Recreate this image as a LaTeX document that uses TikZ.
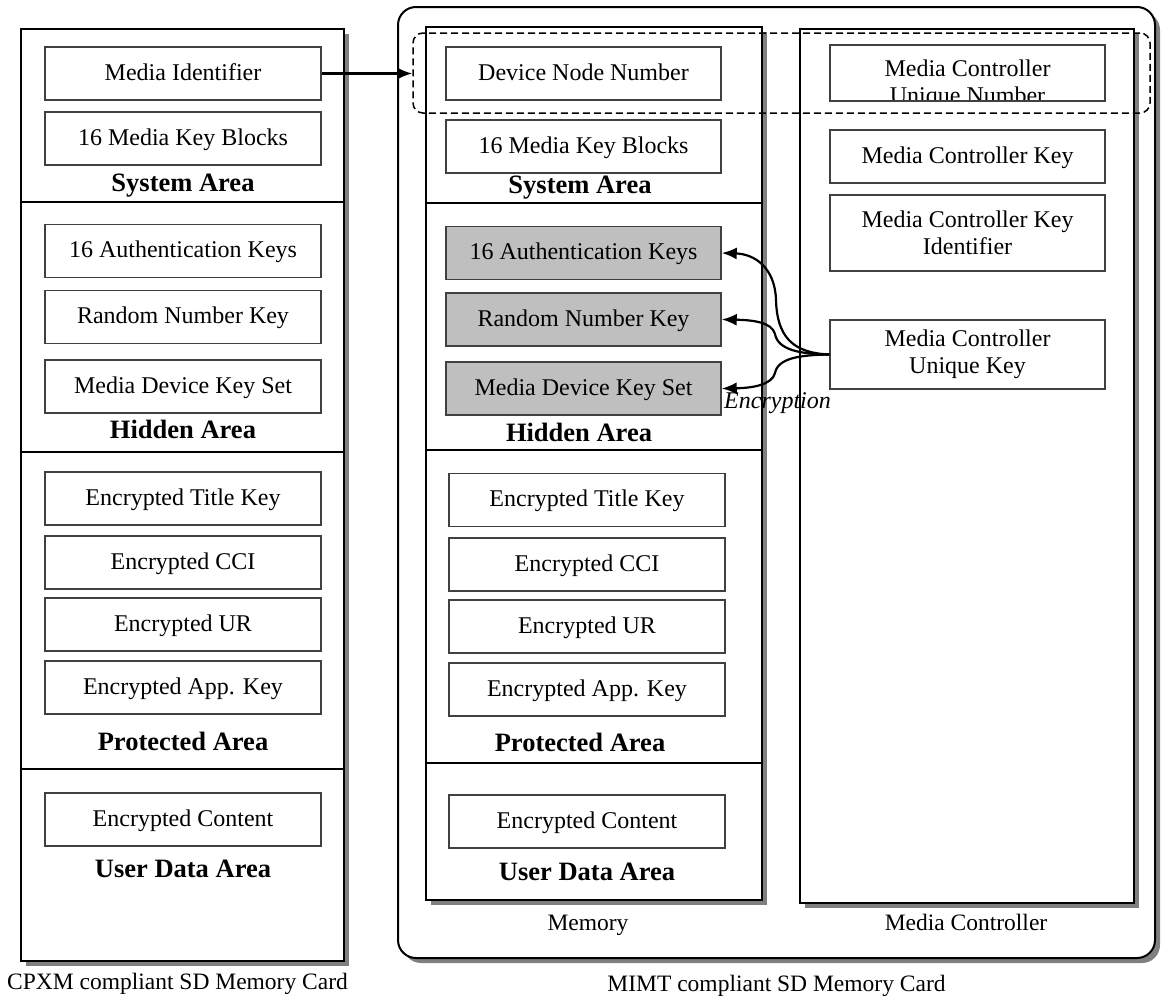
\documentclass[tikz,border=0pt]{standalone}
\usepackage{fontspec}
\setmainfont{Liberation Serif}
\usetikzlibrary{arrows.meta,shadows}
\tikzset{
  container/.style={draw=black, line width=2pt, fill=white, inner sep=0pt,
    drop shadow={shadow xshift=5pt, shadow yshift=-5pt, opacity=1, fill=black!50}},
  ibox/.style={draw=black!75, line width=1.5pt, fill=white, inner sep=0pt,
    minimum height=53pt, text height=18pt, text depth=5pt,
    font=\fontsize{24}{27}\selectfont},
  mbox/.style={ibox, text height={}, text depth={}, align=center},
  gbox/.style={ibox, fill=black!25},
  arealabel/.style={anchor=base, inner sep=0pt, font=\fontsize{26.5}{30}\selectfont\bfseries},
  caption/.style={anchor=base, inner sep=0pt, font=\fontsize{23.5}{27}\selectfont},
  sepline/.style={line width=2pt},
  conn/.style={line width=2.2pt, -{Latex[length=15pt,width=12pt]}},
}
\begin{document}
\begin{tikzpicture}[x=1pt,y=-1pt]
\useasboundingbox (0,0) rectangle (1161,996);

% containers
\node[container, minimum width=323pt, minimum height=932pt] (cpxm) at (182.5,495) {};
\node[container, rounded corners=18pt, minimum width=757pt, minimum height=951pt] (mimt) at (776.5,482.5) {};
\node[container, minimum width=336pt, minimum height=873pt] (mem) at (594,463.5) {};
\node[container, minimum width=334pt, minimum height=874pt] (mc) at (967,466) {};

% separators
\draw[sepline] (cpxm.west |- 0,202) -- (cpxm.east |- 0,202);
\draw[sepline] (cpxm.west |- 0,452) -- (cpxm.east |- 0,452);
\draw[sepline] (cpxm.west |- 0,769) -- (cpxm.east |- 0,769);
\draw[sepline] (mem.west |- 0,203) -- (mem.east |- 0,203);
\draw[sepline] (mem.west |- 0,450) -- (mem.east |- 0,450);
\draw[sepline] (mem.west |- 0,763) -- (mem.east |- 0,763);

% left card boxes
\node[ibox, minimum width=276pt] (mi)   at (183,73.5)  {Media Identifier};
\node[ibox, minimum width=276pt] (mkb)  at (183,138.5) {16 Media Key Blocks};
\node[ibox, minimum width=276pt] (ak)   at (183,251)   {16 Authentication Keys};
\node[ibox, minimum width=276pt] (rnk)  at (183,317)   {Random Number Key};
\node[ibox, minimum width=276pt] (mdks) at (183,386.5) {Media Device Key Set};
\node[ibox, minimum width=276pt] (etk)  at (183,498.5) {Encrypted Title Key};
\node[ibox, minimum width=276pt] (cci)  at (183,562.5) {Encrypted CCI};
\node[ibox, minimum width=276pt] (ur)   at (183,624.5) {Encrypted UR};
\node[ibox, minimum width=276pt] (app)  at (183,687.5) {Encrypted App. Key};
\node[ibox, minimum width=276pt] (ec)   at (183,819.5) {Encrypted Content};

\node[arealabel] (sa1) at (183,191) {System Area};
\node[arealabel] (ha1) at (183,438) {Hidden Area};
\node[arealabel] (pa1) at (183,750) {Protected Area};
\node[arealabel] (ua1) at (183,877) {User Data Area};

% memory boxes
\node[ibox, minimum width=275pt] (dnn)   at (583.5,73.5)  {Device Node Number};
\node[ibox, minimum width=275pt] (mkb2)  at (583.5,146.5) {16 Media Key Blocks};
\node[gbox, minimum width=275pt] (ak2)   at (583.5,253)   {16 Authentication Keys};
\node[gbox, minimum width=275pt] (rnk2)  at (583.5,319.5) {Random Number Key};
\node[gbox, minimum width=275pt] (mdks2) at (583.5,388.5) {Media Device Key Set};
\node[ibox, minimum width=276pt] (etk2)  at (587,500)   {Encrypted Title Key};
\node[ibox, minimum width=276pt] (cci2)  at (587,564.5) {Encrypted CCI};
\node[ibox, minimum width=276pt] (ur2)   at (587,626.5) {Encrypted UR};
\node[ibox, minimum width=276pt] (app2)  at (587,689.5) {Encrypted App. Key};
\node[ibox, minimum width=276pt] (ec2)   at (587,821.5) {Encrypted Content};

\node[arealabel] (sa2) at (580,193) {System Area};
\node[arealabel] (ha2) at (579,441) {Hidden Area};
\node[arealabel] (pa2) at (580,751) {Protected Area};
\node[arealabel] (ua2) at (587,880) {User Data Area};

% media controller boxes
\begin{scope}
  \clip (830,45) rectangle (1105,101);
  \node[mbox, draw=none, fill=none] (mcuntext) at (967.5,84) {Media Controller\\Unique Number};
\end{scope}
\node[ibox, minimum width=275pt, minimum height=56pt, fill=none] (mcun) at (967.5,73) {};
\node[ibox, minimum width=275pt] (mck) at (967.5,156.5) {Media Controller Key};
\node[mbox, minimum width=275pt, minimum height=76pt] (mcki) at (967.5,233) {Media Controller Key\\Identifier};
\node[mbox, minimum width=275pt, minimum height=69pt] (mcuk) at (967.5,354.5) {Media Controller\\Unique Key};

% dashed group
\node[draw=black, line width=1.5pt, dash pattern=on 7pt off 4pt, rounded corners=10pt,
      minimum width=737pt, minimum height=80pt, inner sep=0pt] (dashbox) at (781.5,73) {};

% connectors
\draw[conn] (mi.east) -- (mi.east -| dashbox.west);
\draw[conn] (mcuk.west) .. controls (792,353) and (777,336) .. (776,300)
            .. controls (775,268) and (755,254) .. (ak2.east);
\draw[conn] (mcuk.west) .. controls (800,354) and (778,350) .. (775,334)
            .. controls (772,322) and (752,320) .. (rnk2.east);
\draw[conn] (mcuk.west) .. controls (800,355) and (778,358) .. (775,373)
            .. controls (772,385) and (752,388) .. (mdks2.east);
\node[anchor=base west, inner sep=0pt, font=\fontsize{24}{27}\selectfont\itshape] (enc) at (724,408) {Encryption};

% captions
\node[caption] (memlbl) at (588,930) {Memory};
\node[caption] (mclbl) at (966,930) {Media Controller};
\node[caption] (cpxmlbl) at (177.5,989) {CPXM compliant SD Memory Card};
\node[caption] (mimtlbl) at (776.5,991) {MIMT compliant SD Memory Card};
\end{tikzpicture}
\end{document}
